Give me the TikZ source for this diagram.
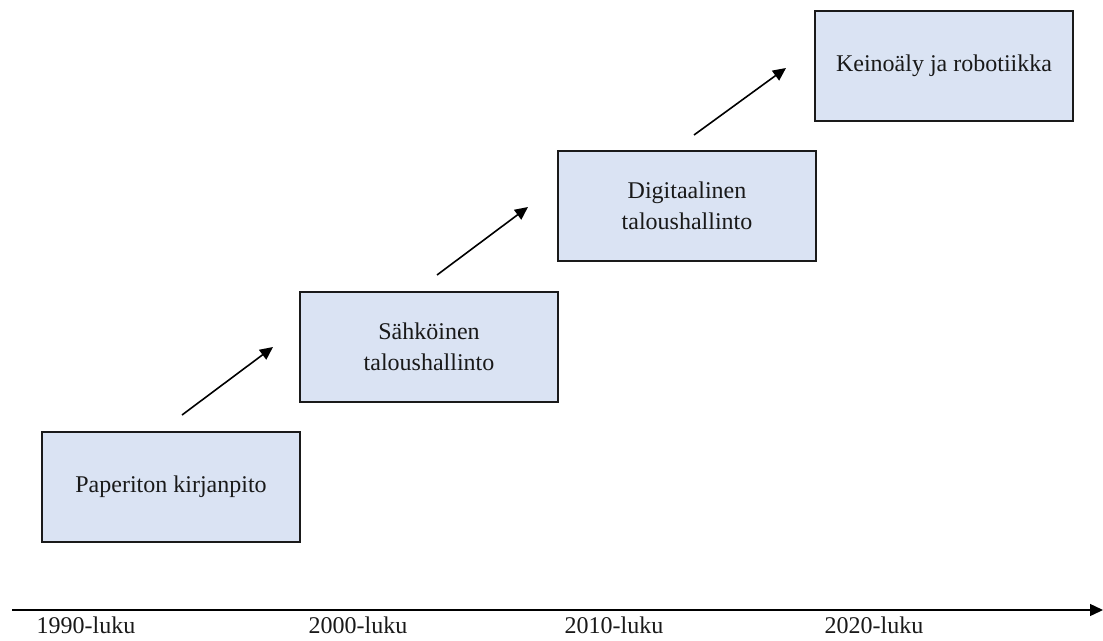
\documentclass[tikz,border=0pt]{standalone}
\usepackage{fontspec}
\setmainfont{Liberation Serif}
\usetikzlibrary{arrows.meta}
\definecolor{boxfill}{HTML}{DAE3F3}
\definecolor{boxline}{HTML}{1A1A1A}
\tikzset{
  stagebox/.style={draw=boxline, fill=boxfill, line width=1.5pt, rectangle,
    minimum width=258pt, minimum height=110pt, align=center, inner sep=0pt,
    font=\fontsize{24}{31}\selectfont, text=black!90},
  steparrow/.style={line width=1.6pt, -{Triangle[length=13pt,width=12pt]}},
  axisline/.style={line width=1.4pt, -{Triangle[length=13pt,width=12pt]}},
  decade/.style={font=\fontsize{24}{29}\selectfont, inner sep=0pt, text=black!90}
}
\begin{document}
\begin{tikzpicture}[x=1pt,y=-1pt]
\useasboundingbox (0,0) rectangle (1103,640);
\node[stagebox] (b1) at (171,487) {Paperiton kirjanpito};
\node[stagebox] (b2) at (429,347) {Sähköinen\\taloushallinto};
\node[stagebox] (b3) at (687,206) {Digitaalinen\\taloushallinto};
\node[stagebox] (b4) at (944,66) {Keinoäly ja robotiikka};
\coordinate (a1s) at (182,415); \coordinate (a1e) at (273,347);
\coordinate (a2s) at (437,275); \coordinate (a2e) at (528,207);
\coordinate (a3s) at (694,135); \coordinate (a3e) at (786,68);
\draw[steparrow] (a1s) -- (a1e);
\draw[steparrow] (a2s) -- (a2e);
\draw[steparrow] (a3s) -- (a3e);
\coordinate (ax0) at (12,610); \coordinate (ax1) at (1103,610);
\draw[axisline] (ax0) -- (ax1);
\node[decade] (d1) at (86,625) {1990-luku};
\node[decade] (d2) at (358,625) {2000-luku};
\node[decade] (d3) at (614,625) {2010-luku};
\node[decade] (d4) at (874,625) {2020-luku};
\end{tikzpicture}
\end{document}
